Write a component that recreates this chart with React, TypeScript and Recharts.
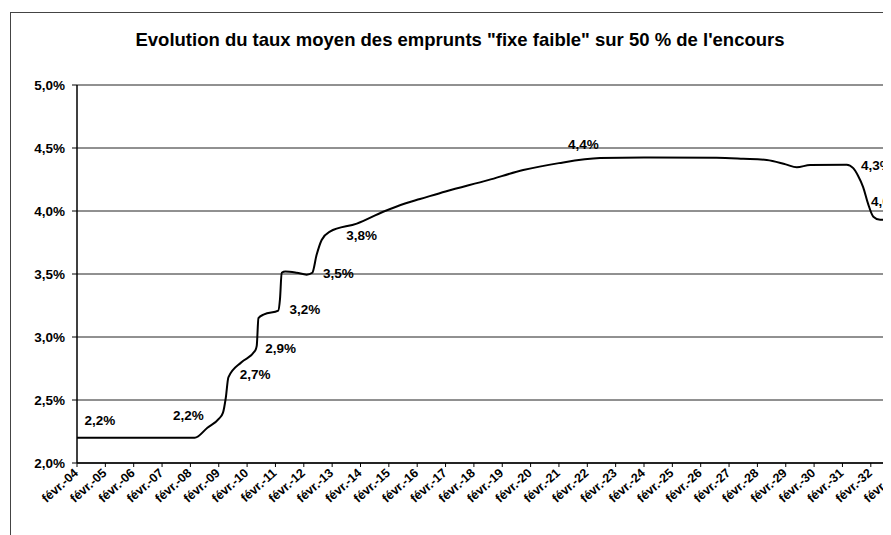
import React from "react";
import {
  LineChart,
  Line,
  XAxis,
  YAxis,
  CartesianGrid,
  ReferenceDot,
} from "recharts";

// Series: year (decimal) and average rate (%)
const years: number[] = [
  2004.0, 2005.0, 2006.0, 2007.0, 2008.15, 2008.6, 2009.0, 2009.15, 2009.25,
  2009.34, 2009.8, 2010.28, 2010.34, 2010.4, 2010.6, 2011.1, 2011.16, 2011.22,
  2011.35, 2011.75, 2012.1, 2012.3, 2012.45, 2012.63, 2012.92, 2013.87, 2014.8,
  2015.57, 2016.1, 2017.0, 2018.5, 2019.74, 2021.0, 2022.45, 2024.0, 2026.56,
  2027.5, 2028.33, 2029.0, 2029.39, 2029.86, 2031.15, 2031.38, 2031.55,
  2031.73, 2031.9, 2032.09, 2032.33, 2032.6, 2032.9,
];
const rates: number[] = [
  2.2, 2.2, 2.2, 2.2, 2.2, 2.28, 2.35, 2.4, 2.52, 2.68, 2.8, 2.89, 2.93, 3.15,
  3.18, 3.21, 3.3, 3.51, 3.52, 3.51, 3.495, 3.51, 3.65, 3.77, 3.836, 3.9, 3.994,
  4.06, 4.095, 4.155, 4.245, 4.325, 4.38, 4.42, 4.425, 4.423, 4.415, 4.405, 4.37,
  4.347, 4.365, 4.368, 4.34, 4.28, 4.19, 4.06, 3.955, 3.93, 3.94, 4.0,
];

// Data labels (anchored in data coordinates)
const labelYears: number[] = [
  2004.81, 2007.93, 2010.28, 2011.18, 2012.04, 2013.22, 2014.04, 2021.86,
  2032.2, 2032.55,
];
const labelValues: number[] = [
  2.336, 2.375, 2.706, 2.905, 3.222, 3.506, 3.804, 4.524, 4.36, 4.074,
];
const labelTexts: string[] = [
  "2,2%", "2,2%", "2,7%", "2,9%", "3,2%", "3,5%", "3,8%", "4,4%", "4,3%", "4,0%",
];

const xTicks: number[] = Array.from({ length: 31 }, (_, i) => 2004 + i);
const yTicks: number[] = [2.0, 2.5, 3.0, 3.5, 4.0, 4.5, 5.0];

const title =
  'Evolution du taux moyen des emprunts "fixe faible" sur 50 % de l\'encours';

const data = years.map((y, i) => ({ year: y, rate: rates[i] }));

const FONT = "'Liberation Sans', Arial, sans-serif";

const fmtY = (v: number) => v.toFixed(1).replace(".", ",") + "%";
const fmtX = (v: number) => "févr.-" + String(v % 100).padStart(2, "0");

const XTick = (props: any) => {
  const { x, y, payload } = props;
  return (
    <g transform={`translate(${x + 2},${y + 5})`}>
      <text
        x={0}
        y={0}
        transform="rotate(-42)"
        textAnchor="end"
        fontFamily={FONT}
        fontWeight="bold"
        fontSize={12.5}
        fill="#000"
      >
        {fmtX(payload.value)}
      </text>
    </g>
  );
};

export default function App() {
  return (
    <div
      style={{
        position: "relative",
        width: 883,
        height: 527,
        overflow: "hidden",
        background: "#fff",
      }}
    >
      <div
        style={{
          position: "absolute",
          left: 2,
          top: 4,
          width: 1000,
          height: 1000,
          borderLeft: "1.5px solid #444",
          borderTop: "1.5px solid #444",
        }}
      />
      <div
        style={{
          position: "absolute",
          left: 0,
          width: 904,
          top: 22,
          textAlign: "center",
          fontFamily: FONT,
          fontWeight: "bold",
          fontSize: 18.5,
          lineHeight: "20px",
          color: "#000",
        }}
      >
        {title}
      </div>
      <div style={{ position: "absolute", left: 0, top: 0 }}>
        <LineChart
          width={940}
          height={527}
          data={data}
          margin={{ top: 77, right: 20.5, bottom: 12, left: 0 }}
        >
          <CartesianGrid
            vertical={false}
            stroke="#222"
            strokeWidth={1}
            horizontalValues={yTicks}
          />
          <XAxis
            dataKey="year"
            type="number"
            domain={[2004, 2034]}
            ticks={xTicks}
            interval={0}
            tick={<XTick />}
            tickSize={4}
            height={60}
            stroke="#000"
            axisLine={{ stroke: "#000", strokeWidth: 1.5 }}
            tickLine={{ stroke: "#000" }}
          />
          <YAxis
            type="number"
            domain={[2, 5]}
            ticks={yTicks}
            interval={0}
            width={69}
            tickSize={5}
            tickMargin={7}
            tickFormatter={fmtY}
            axisLine={{ stroke: "#000", strokeWidth: 1.5 }}
            tickLine={{ stroke: "#000" }}
            tick={{
              fill: "#000",
              fontFamily: FONT,
              fontWeight: "bold",
              fontSize: 13.5,
            }}
          />
          <Line
            type="monotone"
            dataKey="rate"
            stroke="#000"
            strokeWidth={2}
            dot={false}
            isAnimationActive={false}
          />
          {labelTexts.map((t, i) => (
            <ReferenceDot
              key={i}
              x={labelYears[i]}
              y={labelValues[i]}
              r={0}
              ifOverflow="visible"
              shape={(p: any) => (
                <text
                  x={p.cx}
                  y={p.cy}
                  textAnchor="middle"
                  dominantBaseline="central"
                  fontFamily={FONT}
                  fontWeight="bold"
                  fontSize={13.5}
                  fill="#000"
                >
                  {t}
                </text>
              )}
            />
          ))}
        </LineChart>
      </div>
    </div>
  );
}
